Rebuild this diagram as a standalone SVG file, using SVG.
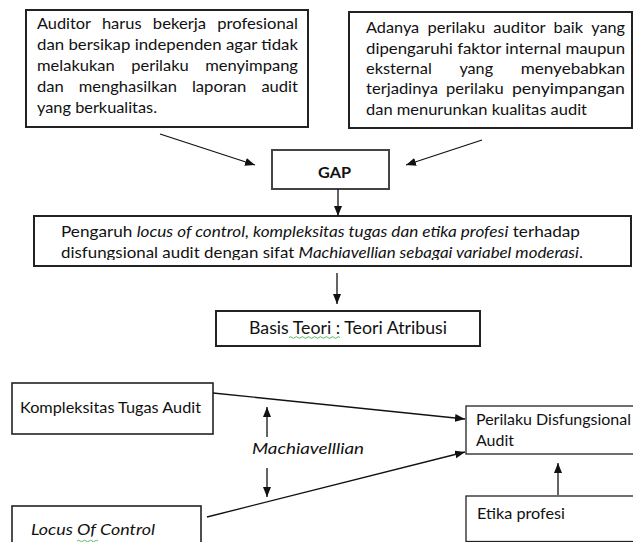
<svg xmlns="http://www.w3.org/2000/svg" width="633" height="542" viewBox="0 0 633 542">
<style>
text{font-family:Lato,"Liberation Sans",Arial,sans-serif;fill:#111;}
.t16{font-size:16px;}
.it{font-style:italic;}
.bx{fill:#fff;stroke:#222;stroke-width:2;}
.bt{fill:#fff;stroke:#222;stroke-width:1.3;}
.ln{stroke:#111;stroke-width:1.3;fill:none;marker-end:url(#ah);}
.sq{stroke:#4caf50;stroke-width:0.9;fill:none;}
</style>
<defs>
<marker id="ah" markerUnits="userSpaceOnUse" markerWidth="11" markerHeight="9" refX="10" refY="4" orient="auto">
<path d="M0,0 L10,4 L0,8 z" fill="#111"/>
</marker>
<clipPath id="clipP"><rect x="34" y="216" width="597" height="44"/></clipPath>
</defs>

<g id="box-auditor">
<rect class="bx" x="26" y="10" width="282" height="117"/>
<text class="t16" y="29"><tspan x="37" textLength="53.7" lengthAdjust="spacingAndGlyphs">Auditor</tspan> <tspan x="101.9" textLength="39.7" lengthAdjust="spacingAndGlyphs">harus</tspan> <tspan x="152.8" textLength="53.3" lengthAdjust="spacingAndGlyphs">bekerja</tspan> <tspan x="217.3" textLength="80.6" lengthAdjust="spacingAndGlyphs">profesional</tspan></text>
<text class="t16" x="37" y="50" textLength="261" lengthAdjust="spacingAndGlyphs">dan bersikap independen agar tidak</text>
<text class="t16" y="71"><tspan x="37" textLength="77.8" lengthAdjust="spacingAndGlyphs">melakukan</tspan> <tspan x="131.2" textLength="57.6" lengthAdjust="spacingAndGlyphs">perilaku</tspan> <tspan x="205.2" textLength="92.8" lengthAdjust="spacingAndGlyphs">menyimpang</tspan></text>
<text class="t16" y="92"><tspan x="37" textLength="26.8" lengthAdjust="spacingAndGlyphs">dan</tspan> <tspan x="78.8" textLength="98.1" lengthAdjust="spacingAndGlyphs">menghasilkan</tspan> <tspan x="191.9" textLength="54.5" lengthAdjust="spacingAndGlyphs">laporan</tspan> <tspan x="261.4" textLength="36.6" lengthAdjust="spacingAndGlyphs">audit</tspan></text>
<text class="t16" x="37" y="113" textLength="120" lengthAdjust="spacingAndGlyphs">yang berkualitas.</text>
</g>

<g id="box-perilaku-auditor">
<rect class="bx" x="349" y="12" width="283" height="116"/>
<text class="t16" y="33"><tspan x="366" textLength="53.2" lengthAdjust="spacingAndGlyphs">Adanya</tspan> <tspan x="427.5" textLength="57.6" lengthAdjust="spacingAndGlyphs">perilaku</tspan> <tspan x="493.3" textLength="52" lengthAdjust="spacingAndGlyphs">auditor</tspan> <tspan x="553.6" textLength="29.5" lengthAdjust="spacingAndGlyphs">baik</tspan> <tspan x="591.3" textLength="33.7" lengthAdjust="spacingAndGlyphs">yang</tspan></text>
<text class="t16" x="366" y="54" textLength="259" lengthAdjust="spacingAndGlyphs">dipengaruhi faktor internal maupun</text>
<text class="t16" y="74"><tspan x="366" textLength="65.8" lengthAdjust="spacingAndGlyphs">eksternal</tspan> <tspan x="459.4" textLength="33.7" lengthAdjust="spacingAndGlyphs">yang</tspan> <tspan x="520.7" textLength="104.3" lengthAdjust="spacingAndGlyphs">menyebabkan</tspan></text>
<text class="t16" y="94"><tspan x="366" textLength="71.9" lengthAdjust="spacingAndGlyphs">terjadinya</tspan> <tspan x="446.1" textLength="57.6" lengthAdjust="spacingAndGlyphs">perilaku</tspan> <tspan x="511.9" textLength="113.1" lengthAdjust="spacingAndGlyphs">penyimpangan</tspan></text>
<text class="t16" x="366" y="115" textLength="221" lengthAdjust="spacingAndGlyphs">dan menurunkan kualitas audit</text>
</g>

<g id="box-gap">
<rect class="bx" x="272" y="150" width="117" height="39" style="stroke:#444"/>
<text x="318" y="178" font-size="16" font-weight="bold" textLength="33" lengthAdjust="spacingAndGlyphs">GAP</text>
</g>

<g id="box-pengaruh">
<rect class="bx" x="34" y="216" width="597" height="50"/>
<text class="t16" x="61" y="237" textLength="519" lengthAdjust="spacingAndGlyphs">Pengaruh <tspan class="it">locus of control, kompleksitas tugas dan etika profesi</tspan> terhadap</text>
<text class="t16" x="61" y="258" textLength="522" lengthAdjust="spacingAndGlyphs" clip-path="url(#clipP)">disfungsional audit dengan sifat <tspan class="it">Machiavellian sebagai variabel moderasi</tspan>.</text>
</g>

<g id="box-basis">
<rect class="bx" x="216" y="311" width="264" height="35"/>
<text x="249" y="334" font-size="17" textLength="198" lengthAdjust="spacingAndGlyphs">Basis Teori : Teori Atribusi</text>
<path class="sq" d="M289,337.5 q1.5,-1.6 3,0 t3,0 t3,0 t3,0 t3,0 t3,0 t3,0 t3,0 t3,0 t3,0 t3,0 t3,0 t3,0 t3,0 t3,0 t3,0 t3,0"/>
</g>

<g id="box-kompleksitas">
<rect class="bt" x="12" y="383" width="201" height="51" style="stroke-width:1.6"/>
<text class="t16" x="20" y="413" textLength="181" lengthAdjust="spacingAndGlyphs">Kompleksitas Tugas Audit</text>
</g>

<g id="label-machiavellian">
<text class="t16 it" x="252" y="454" textLength="112" lengthAdjust="spacingAndGlyphs">Machiavelllian</text>
</g>

<g id="box-locus">
<rect class="bt" x="12" y="506" width="189" height="42" style="stroke-width:1.6"/>
<text class="t16 it" x="31" y="535" textLength="124" lengthAdjust="spacingAndGlyphs">Locus Of Control</text>
<path class="sq" d="M77,541 q1.5,-1.6 3,0 t3,0 t3,0 t3,0 t3,0 t3,0 t3,0"/>
</g>

<g id="box-disfungsional">
<rect class="bt" x="466" y="406" width="172" height="48"/>
<text class="t16" x="476" y="425" textLength="155" lengthAdjust="spacingAndGlyphs">Perilaku Disfungsional</text>
<text class="t16" x="476" y="446" textLength="38" lengthAdjust="spacingAndGlyphs">Audit</text>
</g>

<g id="box-etika">
<rect class="bt" x="466" y="496" width="172" height="45.5"/>
<text class="t16" x="477" y="519" textLength="88" lengthAdjust="spacingAndGlyphs">Etika profesi</text>
</g>

<g id="connectors">
<line class="ln" x1="160" y1="134" x2="255" y2="165"/>
<line class="ln" x1="482" y1="140" x2="406" y2="165"/>
<line class="ln" x1="338" y1="189" x2="338" y2="216"/>
<line class="ln" x1="337" y1="273" x2="337" y2="304"/>
<line class="ln" x1="213" y1="393" x2="465" y2="419"/>
<line class="ln" x1="207" y1="517" x2="465" y2="452"/>
<line class="ln" x1="267" y1="437" x2="267" y2="407"/>
<line class="ln" x1="267" y1="468" x2="267" y2="497"/>
<line class="ln" x1="558" y1="495" x2="558" y2="463"/>
</g>
</svg>
